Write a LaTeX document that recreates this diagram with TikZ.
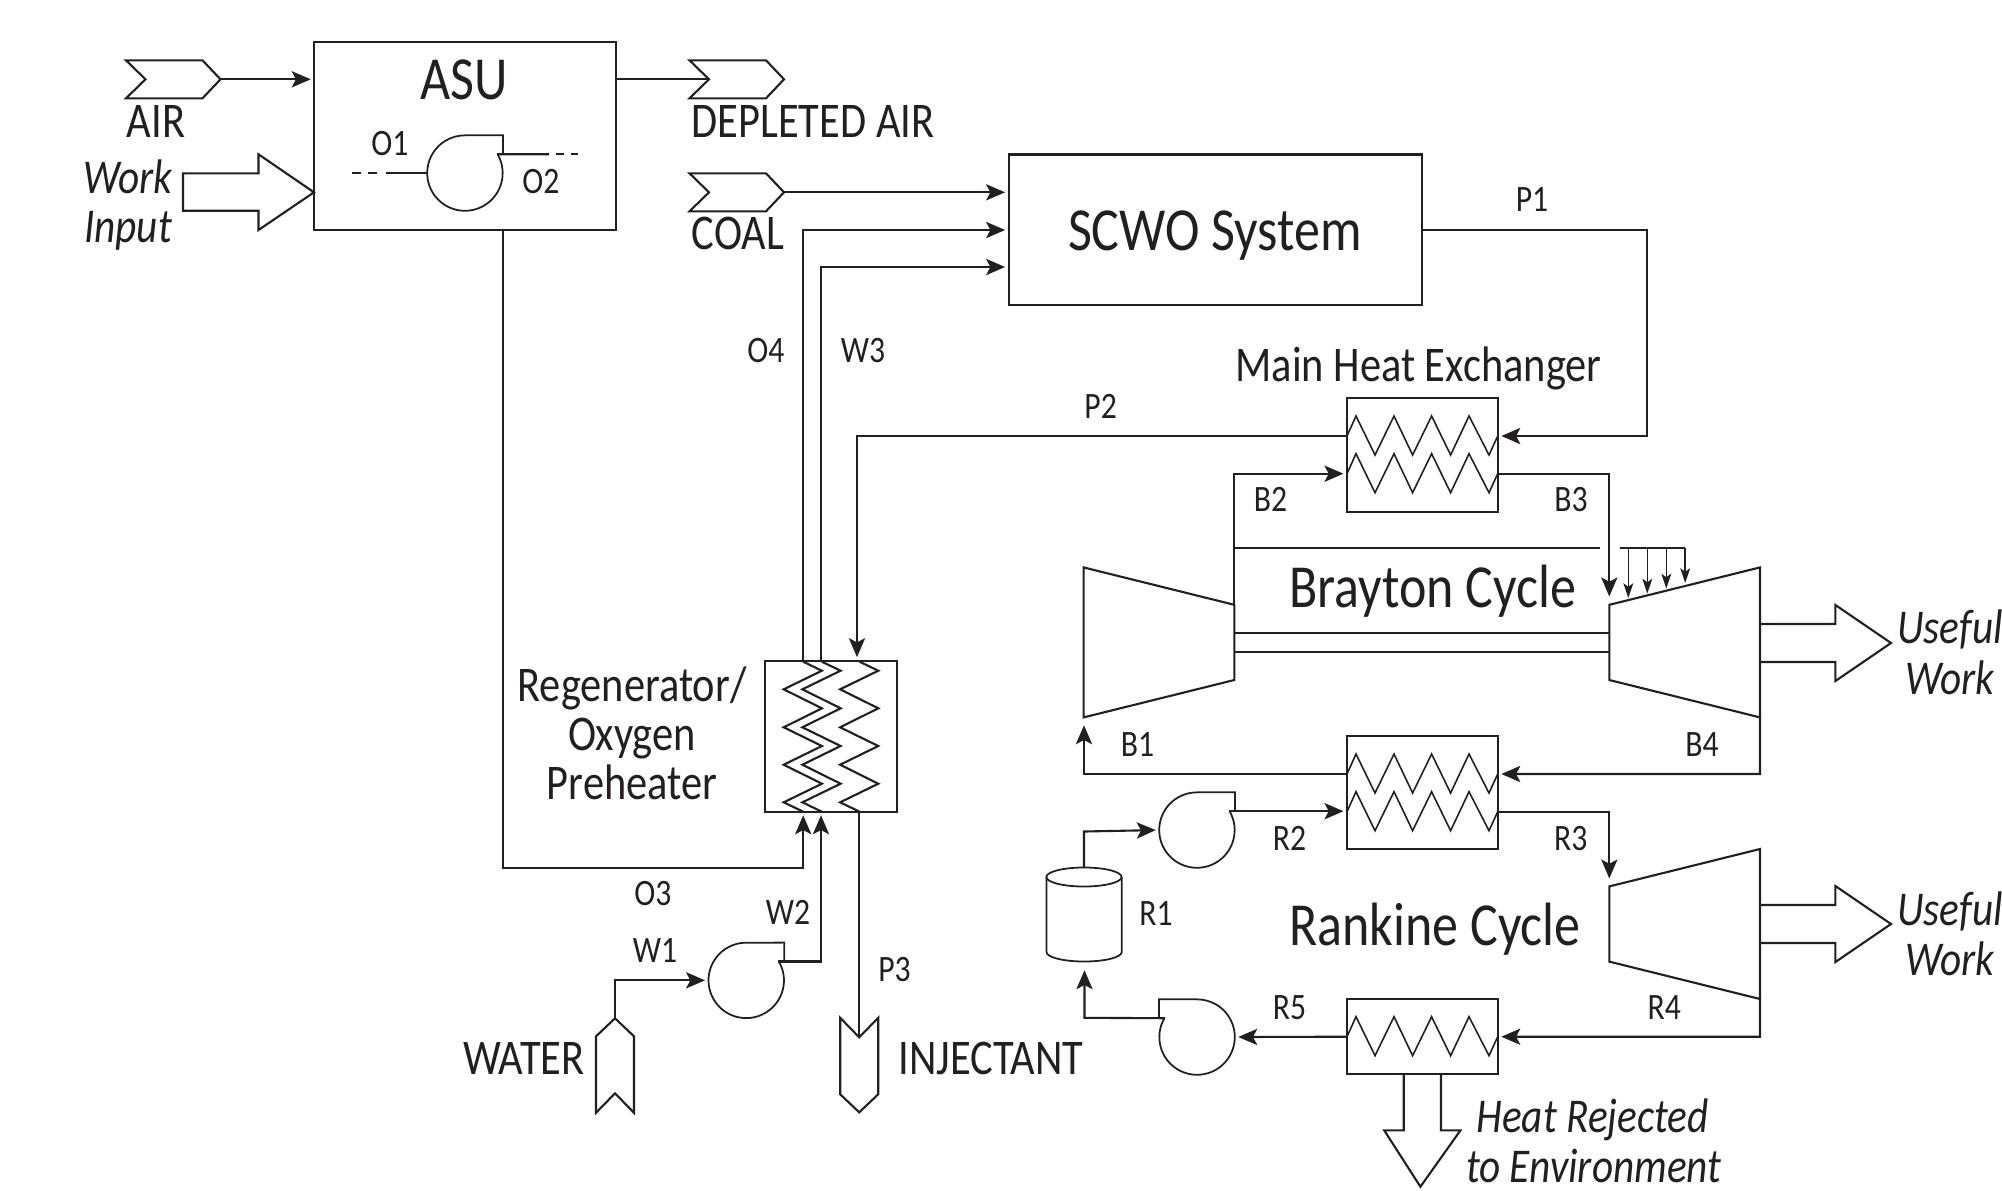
\documentclass[tikz,border=0pt]{standalone}
\usepackage{fontspec}
\setmainfont{Carlito}[FakeStretch=0.85]
\usetikzlibrary{arrows.meta}
\definecolor{ink}{HTML}{231F20}

\begin{document}
\begin{tikzpicture}[x=0.01cm, y=-0.01cm, line width=0.6pt, color=ink, line join=miter,
    box/.style={draw, rectangle, inner sep=0pt, outer sep=0pt},
    flow/.style={-{Stealth[length=5.4pt,width=4.6pt,inset=1.2pt]}, shorten >=1pt},
    tick/.style={-{Stealth[length=4.2pt,width=2.8pt,inset=1pt]}, line width=0.45pt},
    lbl/.style={inner sep=0pt, text height=0.68em, text depth=0.14em},
    big/.style={lbl, font=\fontsize{17.4}{20}\selectfont, yshift=-0.1cm},
    mid/.style={lbl, font=\fontsize{14.2}{16}\selectfont, yshift=-0.06cm},
    small/.style={lbl, font=\fontsize{10.6}{12}\selectfont, yshift=-0.03cm},
    note/.style={lbl, font=\fontsize{13.8}{16}\selectfont\itshape, yshift=-0.06cm},
    chevron/.pic={
      \draw (0,0) -- (-18,-19) -- (-94.5,-19) -- (-75,0) -- (-94.5,19) -- (-18,19) -- cycle;
      \coordinate (-tip) at (0,0);
      \coordinate (-notch) at (-75,0);
    },
    pump/.pic={
      \draw[line width=0.5pt] (32.6,-18.8) arc[start angle=30, end angle=-270, radius=0.377cm] -- (38,-37.7) -- (38,-18.8);
      \coordinate (-inlet) at (-37.7,0);
      \coordinate (-outlet) at (32,-18.8);
    },
    hcoil/.pic={
      \draw[line width=0.45pt] (0,0) -- (9,-20) -- (28,19) -- (47,-20) -- (65.6,19) -- (84.6,-20) -- (103.6,19) -- (122,-20) -- (142,19) -- (150.7,0);
    },
    vcoil/.pic={
      \draw (0,0) -- (18.7,9) -- (-19.5,27.6) -- (18.7,46.6) -- (-19.5,65.6) -- (18.7,84.3) -- (-19.5,103) -- (18.7,122) -- (-19.5,140.6) -- (0,150);
    },
    turbine/.pic={
      \draw (0,-37.6) -- (150.7,-75) -- (150.7,75) -- (0,37.6) -- cycle;
      \coordinate (-inlet) at (0,-37.6);
      \coordinate (-corner) at (150.7,75);
    },
    workarrow/.pic={
      \draw (0,-19) -- (75.4,-19) -- (75.4,-38) -- (131,0) -- (75.4,38) -- (75.4,19) -- (0,19);
    }]
  \useasboundingbox (0,0) rectangle (2002,1190);

  % boxes
  \node[box, minimum width=3.013cm, minimum height=1.876cm] (asu) at (465,135.7) {};
  \node[box, minimum width=4.133cm, minimum height=1.505cm] (scwo) at (1215.4,229.8) {};
  \node[box, minimum width=1.507cm, minimum height=1.137cm] (hxmain) at (1422.4,455) {};
  \node[box, minimum width=1.507cm, minimum height=1.13cm] (hxlow) at (1422.4,792.5) {};
  \node[box, minimum width=1.507cm, minimum height=0.753cm] (hxcond) at (1422.4,1036.7) {};
  \node[box, minimum width=1.32cm, minimum height=1.51cm] (regen) at (831,736.2) {};

  % streams in and out
  \pic (air) at (220.5,79.3) {chevron};
  \pic (depleted) at (784,79.3) {chevron};
  \pic (coal) at (784,192.3) {chevron};
  \pic[rotate=90] (water) at (615,1018.3) {chevron};
  \pic[rotate=-90] (injectant) at (859.2,1112.3) {chevron};

  % machines
  \pic (pumpo) at (465,173) {pump};
  \pic (pumpw) at (746.3,980.3) {pump};
  \pic (pumpr) at (1197,830) {pump};
  \pic[xscale=-1] (pumpc) at (1197,1037) {pump};
  \pic[xscale=-1] (comp) at (1234.3,642.4) {turbine};
  \pic (turb) at (1609.3,642.4) {turbine};
  \pic (rturb) at (1609.3,924) {turbine};

  % coils
  \pic at (hxmain.west |- 0,436) {hcoil};
  \pic at (hxmain.west |- 0,473.7) {hcoil};
  \pic at (hxlow.west |- 0,774) {hcoil};
  \pic at (hxlow.west |- 0,811.7) {hcoil};
  \pic at (hxcond.west) {hcoil};
  \pic at (803.2,661.7) {vcoil};
  \pic at (821.9,661.7) {vcoil};
  \pic at (859.6,661.7) {vcoil};

  % big arrows
  \draw (183,173.3) -- (258.5,173.3) -- (258.5,154.3) -- (314,192.3) -- (258.5,230) -- (258.5,210.7) -- (183,210.7) -- cycle;
  \pic at (1760,643) {workarrow};
  \pic at (1760,924) {workarrow};
  \draw (1403.7,1074.3) -- (1403.7,1130.3) -- (1384.2,1130.3) -- (1420.4,1186.7) -- (1460.5,1130.3) -- (1441,1130.3) -- (1441,1074.3);

  \coordinate (o1a) at (386,173);
  \coordinate (o1b) at (352,173);
  \coordinate (o1c) at (377.5,173);
  \coordinate (o2a) at (549,154.2);
  \coordinate (o2b) at (578,154.2);
  \coordinate (o2c) at (556,154.2);
  \coordinate (o4a) at (803.2,230);
  \coordinate (w3a) at (821,267);
  \coordinate (p1a) at (1647,230);
  \coordinate (p1b) at (1647,436);
  \coordinate (p2a) at (857,436);
  \coordinate (b2a) at (1234.3,473.7);
  \coordinate (b3a) at (1609.3,473.7);
  \coordinate (b3b) at (1609.3,600);
  \coordinate (b1a) at (1084,774);
  \coordinate (b1b) at (1084,721.7);
  \coordinate (b4a) at (1760,774);
  \coordinate (r1a) at (1084,867.7);
  \coordinate (r1b) at (1084,831.5);
  \coordinate (r3a) at (1609.3,811.7);
  \coordinate (r3b) at (1609.3,882);
  \coordinate (r4a) at (1760,1036.7);
  \coordinate (r5a) at (1084.5,1017.8);
  \coordinate (r5b) at (1084.5,966.7);
  \coordinate (o3a) at (502.7,867.7);
  \coordinate (o3b) at (803.2,867.7);
  \coordinate (w2a) at (821,961.5);
  \coordinate (w1a) at (615,980.3);
  \coordinate (la) at (1234.3,548.3);
  \coordinate (lb) at (1600,548.3);
  \coordinate (sa) at (1234.3,633.3);
  \coordinate (sb) at (1609.3,633.3);
  \coordinate (sc) at (1234.3,651.7);
  \coordinate (sd) at (1609.3,651.7);

  % connectors
  \draw[flow] (air-tip) -- (asu.west |- air-tip);
  \draw (asu.east |- depleted-notch) -- (depleted-notch);
  \draw[flow] (coal-tip) -- (scwo.west |- coal-tip);
  \draw (pumpo-inlet) -- (o1a);
  \draw[dash pattern=on 2.6pt off 2pt] (o1b) -- (o1c);
  \draw (pumpo-outlet) -- (o2a);
  \draw[dash pattern=on 2.3pt off 2pt] (o2c) -- (o2b);
  \draw[flow] (o3a |- asu.south) -- (o3a) -- (o3b) -- (o3b |- regen.south);
  \draw[flow] (pumpw-outlet) -- (w2a) -- (w2a |- regen.south);
  \draw[flow] (water-tip) -- (w1a) -- (pumpw-inlet);
  \draw[flow] (o4a |- regen.north) -- (o4a) -- (scwo.west |- o4a);
  \draw[flow] (w3a |- regen.north) -- (w3a) -- (scwo.west |- w3a);
  \draw[flow] (scwo.east |- p1a) -- (p1a) -- (p1b) -- (hxmain.east |- p1b);
  \draw[flow] (hxmain.west |- p2a) -- (p2a) -- (p2a |- regen.north);
  \draw (regen.south -| injectant-notch) -- (injectant-notch);
  \draw[flow] (comp-inlet) -- (b2a) -- (hxmain.west |- b2a);
  \draw[flow] (hxmain.east |- b3a) -- (b3a) -- (b3b);
  \draw[flow] (hxlow.west |- b1a) -- (b1a) -- (b1b);
  \draw[flow] (turb-corner) -- (b4a) -- (hxlow.east |- b4a);
  \draw[flow] (r1a) -- (r1b) -- (pumpr-inlet);
  \draw[flow] (pumpr-outlet) -- (hxlow.west |- pumpr-outlet);
  \draw[flow] (hxlow.east |- r3a) -- (r3a) -- (r3b);
  \draw[flow] (rturb-corner) -- (r4a) -- (hxcond.east |- r4a);
  \draw[flow] (hxcond.west) -- (pumpc-inlet);
  \draw[flow] (pumpc-outlet) -- (r5a) -- (r5b);

  % shaft and bleed lines
  \draw (la) -- (lb);
  \draw (sa) -- (sb);
  \draw (sc) -- (sd);
  \coordinate (t0) at (1620,548.3);
  \coordinate (t4) at (1685.2,548.3);
  \draw (t0) -- (t4);
  \foreach \tx/\ty in {1628.3/598, 1647.3/593.5, 1666.3/588.5, 1685.2/583}
    \draw[tick] (\tx,548.3) -- (\tx,\ty);

  % tank
  \draw[line width=0.5pt] (1046.5,877) -- (1046.5,952) arc[start angle=180, end angle=360, x radius=0.376cm, y radius=0.095cm] -- (1121.7,877);
  \draw[line width=0.5pt] (1084,877) circle[x radius=0.376cm, y radius=0.095cm];

  % labels
  \node[big] (tasu) at (464,80) {ASU};
  \node[big] (tscwo) at (1215,231) {SCWO System};
  \node[big] (tbray) at (1432.6,588) {Brayton Cycle};
  \node[big] (trank) at (1435,925.7) {Rankine Cycle};
  \node[mid] (tair) at (156,121.5) {AIR};
  \node[mid] (tdep) at (813,121.5) {DEPLETED AIR};
  \node[mid] (tcoal) at (738,233.6) {COAL};
  \node[mid] (twater) at (523.8,1059.3) {WATER};
  \node[mid] (tinj) at (991,1059.3) {INJECTANT};
  \node[mid] (tmain) at (1418.5,366) {Main Heat Exchanger};
  \node[mid] (treg1) at (632,686) {Regenerator/};
  \node[mid] (treg2) at (632,735.4) {Oxygen};
  \node[mid] (treg3) at (632,784) {Preheater};
  \node[note] (twi1) at (128,177.5) {Work};
  \node[note] (twi2) at (128,227) {Input};
  \node[note] (tuw1) at (1950,628) {Useful};
  \node[note] (tuw2) at (1950,679) {Work};
  \node[note] (tuw3) at (1950,910) {Useful};
  \node[note] (tuw4) at (1950,960) {Work};
  \node[note] (thr1) at (1592.6,1116.7) {Heat Rejected};
  \node[note] (thr2) at (1593.7,1166.7) {to Environment};
  \node[small] (to1) at (390,143) {O1};
  \node[small] (to2) at (541,180.7) {O2};
  \node[small] (to3) at (653,893.3) {O3};
  \node[small] (to4) at (766,350) {O4};
  \node[small] (tw1) at (655,950) {W1};
  \node[small] (tw2) at (788,911.7) {W2};
  \node[small] (tw3) at (863,350) {W3};
  \node[small] (tp1) at (1532,199) {P1};
  \node[small] (tp2) at (1100.6,406) {P2};
  \node[small] (tp3) at (894.5,969.3) {P3};
  \node[small] (tb1) at (1137.6,744) {B1};
  \node[small] (tb2) at (1270.6,499) {B2};
  \node[small] (tb3) at (1571,499) {B3};
  \node[small] (tb4) at (1702,744) {B4};
  \node[small] (tr1) at (1156,912.7) {R1};
  \node[small] (tr2) at (1289.5,837.7) {R2};
  \node[small] (tr3) at (1570.8,837.7) {R3};
  \node[small] (tr4) at (1664.3,1006.7) {R4};
  \node[small] (tr5) at (1289.5,1006.7) {R5};
\end{tikzpicture}
\end{document}
